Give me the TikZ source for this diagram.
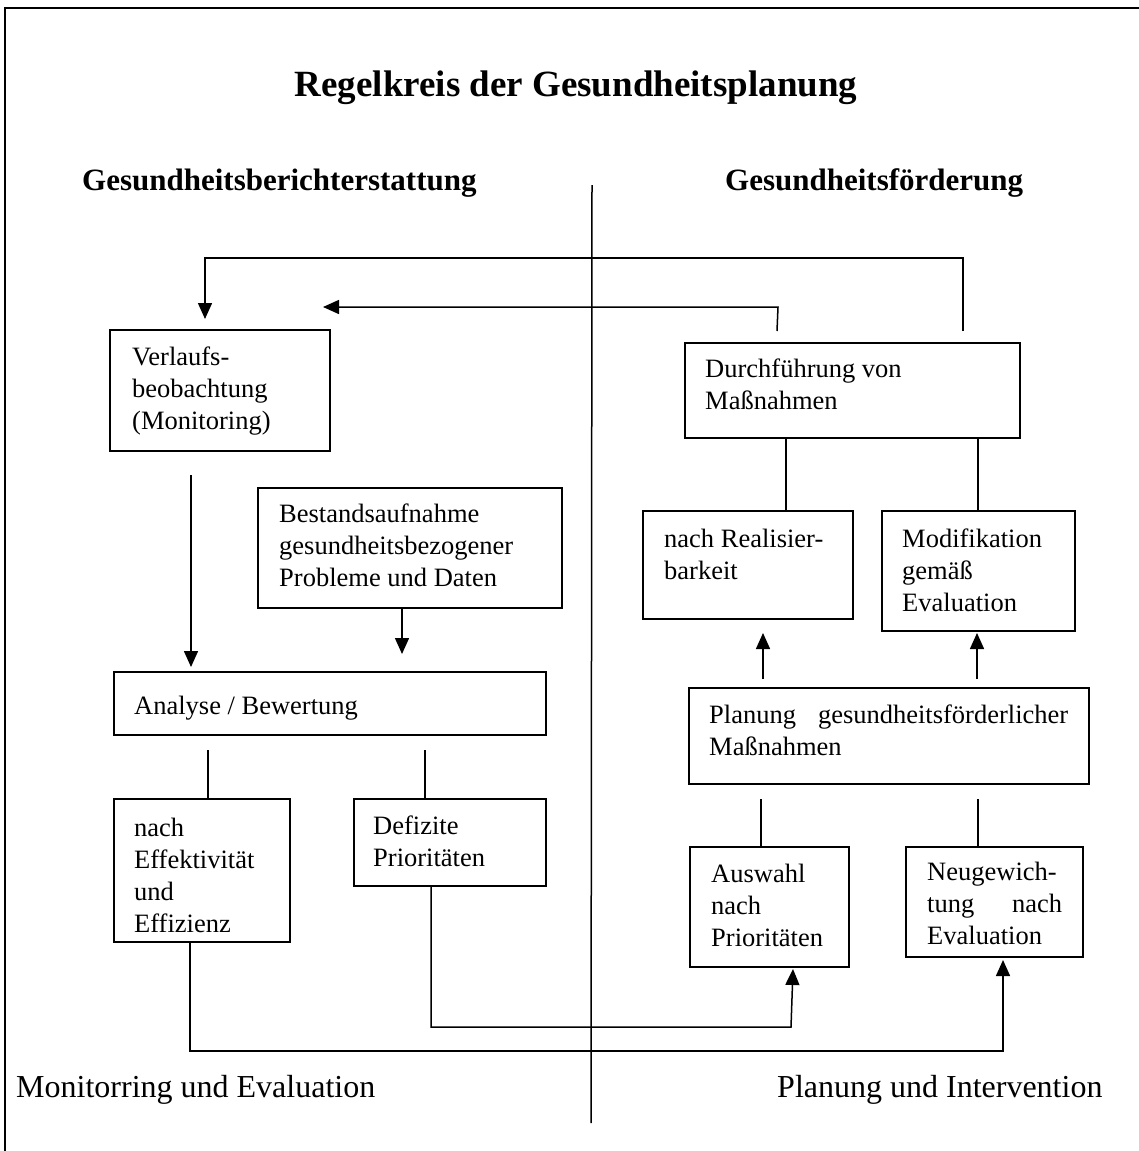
\documentclass[tikz,border=0pt]{standalone}
\usepackage{fontspec}
\setmainfont{Liberation Serif}
\usetikzlibrary{arrows.meta}

\tikzset{
  box/.style={draw, line width=1.5pt, rectangle, inner sep=0pt},
  conn/.style={line width=1.5pt},
  arr/.style={conn, -{Triangle[length=16pt,width=14pt]}},
  body/.style={inner sep=0pt, align=left, anchor=north west,
    font=\fontsize{26.5}{32}\selectfont},
  head/.style={inner sep=0pt, anchor=base west,
    font=\fontsize{31}{36}\selectfont\bfseries},
  foot/.style={inner sep=0pt, anchor=base west,
    font=\fontsize{32}{38}\selectfont},
}

% a box given by its corners (x1,y1) and (x2,y2)
\newcommand\boxat[5]{%
  \node[box, minimum width={#4-#2}, minimum height={#5-#3}]
    (#1) at ({(#2+#4)/2},{(#3+#5)/2}) {};}

\begin{document}
\begin{tikzpicture}[x=1pt,y=-1pt]
\useasboundingbox (0,0) rectangle (1139,1151);

% outer frame (top and left only)
\draw[line width=2.6pt] (1139,8) -- (5,8) -- (5,1151);

% headings
\node[inner sep=0pt, anchor=base, font=\fontsize{37}{42}\selectfont\bfseries]
  (title) at (576,96) {Regelkreis der Gesundheitsplanung};
\node[head] (hleft) at (82,190) {Gesundheitsberichterstattung};
\node[head] (hright) at (725,190) {Gesundheitsförderung};

% divider
\coordinate (divtop) at (592,185);
\coordinate (divbot) at (591,1123);
\draw[conn] (divtop) -- (divbot);

% left column boxes
\boxat{verl}{110}{330}{330}{451}
\node[body] (tverl) at (132,343) {\strut Verlaufs-\\beobachtung\\(Monitoring)};

\boxat{best}{258}{488}{562}{608}
\node[body] (tbest) at (279,500) {\strut Bestandsaufnahme\\gesundheitsbezogener\\Probleme und Daten};

\boxat{anal}{114}{672}{546}{735}
\node[body] (tanal) at (134,692) {\strut Analyse / Bewertung};

\boxat{effk}{114}{799}{290}{942}
\node[body] (teffk) at (134,814) {\strut nach\\Effektivität\\und\\Effizienz};

\boxat{defz}{354}{799}{546}{886}
\node[body] (tdefz) at (373,812) {\strut Defizite\\Prioritäten};

% right column boxes
\boxat{durch}{685}{343}{1020}{438}
\node[body] (tdurch) at (705,355) {\strut Durchführung von\\Maßnahmen};

\boxat{real}{643}{511}{853}{619}
\node[body] (treal) at (664,525) {\strut nach Realisier-\\barkeit};

\boxat{modi}{882}{511}{1075}{631}
\node[body] (tmodi) at (902,525) {\strut Modifikation\\gemäß\\Evaluation};

\boxat{plan}{689}{688}{1089}{784}
\node[body] (tplan) at (709,701)
  {\strut\hbox to 359pt{Planung\hfill gesundheitsförderlicher}\\Maßnahmen};

\boxat{ausw}{690}{847}{849}{967}
\node[body] (tausw) at (711,860) {\strut Auswahl\\nach\\Prioritäten};

\boxat{neug}{906}{847}{1083}{957}
\node[body] (tneug) at (927,858)
  {\strut Neugewich-\\\hbox to 135pt{tung\hfill nach}\\Evaluation};

% feedback loops at the top
\coordinate (aStart) at (963,331);
\coordinate (aTopR) at (963,258);
\coordinate (aTopL) at (205,258);
\coordinate (aEnd) at (205,319);
\draw[arr] (aStart) -- (aTopR) -- (aTopL) -- (aEnd);

\coordinate (bStart) at (777,331);
\coordinate (bTop) at (778,307);
\coordinate (bEnd) at (323,307);
\draw[arr] (bStart) -- (bTop) -- (bEnd);

% left column flow
\coordinate (v1) at (191,475);
\coordinate (v2) at (191,667);
\draw[arr] (v1) -- (v2);
\coordinate (bArr) at (402,654);
\draw[arr] (best.south -| bArr) -- (bArr);

\coordinate (l1) at (208,750);
\coordinate (l2) at (425,750);
\draw[conn] (l1) -- (effk.north -| l1);
\draw[conn] (l2) -- (defz.north -| l2);

% lower loops to the planning side
\coordinate (d1) at (431,1027);
\coordinate (d2) at (791,1027);
\coordinate (d3) at (793,969);
\draw[arr] (defz.south -| d1) -- (d1) -- (d2) -- (d3);
\coordinate (e1) at (190,1051);
\coordinate (e2) at (1003,1051);
\coordinate (e3) at (1003,960);
\draw[arr] (effk.south -| e1) -- (e1) -- (e2) -- (e3);

% right column flow
\coordinate (r1) at (786,0);
\coordinate (r2) at (978,0);
\draw[conn] (durch.south -| r1) -- (real.north -| r1);
\draw[conn] (durch.south -| r2) -- (modi.north -| r2);
\coordinate (p1a) at (763,679);
\coordinate (p1b) at (763,633);
\coordinate (p2a) at (977,679);
\coordinate (p2b) at (977,633);
\draw[arr] (p1a) -- (p1b);
\draw[arr] (p2a) -- (p2b);
\coordinate (q1) at (761,799);
\coordinate (q2) at (978,799);
\draw[conn] (q1) -- (ausw.north -| q1);
\draw[conn] (q2) -- (neug.north -| q2);

% bottom labels
\node[foot] (fleft) at (16,1097) {Monitorring und Evaluation};
\node[foot] (fright) at (777,1097) {Planung und Intervention};
\end{tikzpicture}
\end{document}
